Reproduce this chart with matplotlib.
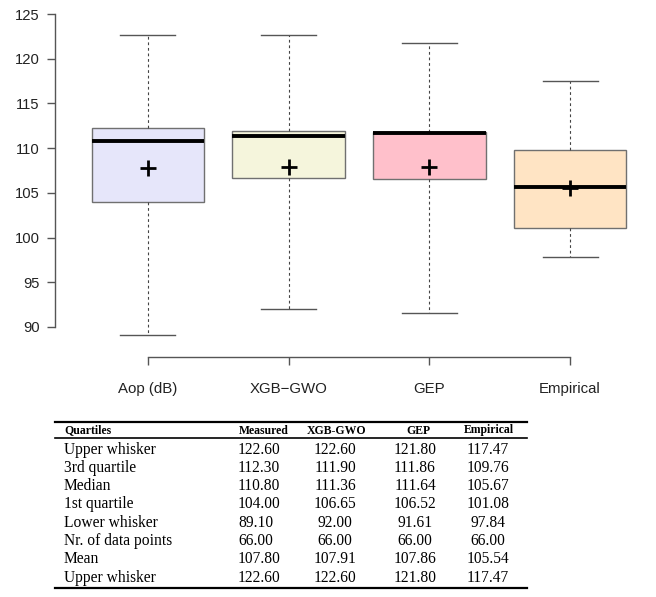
import matplotlib
matplotlib.use('Agg')
import matplotlib.pyplot as plt
from matplotlib.lines import Line2D

# box plot data
groups = ['Aop (dB)', 'XGB\u2212GWO', 'GEP', 'Empirical']
upper_whisker = [122.60, 122.60, 121.80, 117.47]
q3 = [112.30, 111.90, 111.86, 109.76]
median = [110.80, 111.36, 111.64, 105.67]
q1 = [104.00, 106.65, 106.52, 101.08]
lower_whisker = [89.10, 92.00, 91.61, 97.84]
mean = [107.80, 107.91, 107.86, 105.54]
box_colors = ['#E6E6FA', '#F5F5DC', '#FFC0CB', '#FFE4C4']
yticks = [90, 95, 100, 105, 110, 115, 120, 125]

# table below the chart
table_header = ['Quartiles', 'Measured', 'XGB-GWO', 'GEP', 'Empirical']
row_labels = ['Upper whisker', '3rd quartile', 'Median', '1st quartile',
              'Lower whisker', 'Nr. of data points', 'Mean', 'Upper whisker']
n_points = [66.00, 66.00, 66.00, 66.00]
table_cols = [list(c) for c in zip(upper_whisker, q3, median, q1,
                                   lower_whisker, n_points, mean, upper_whisker)]

W, H = 656, 597
fig = plt.figure(figsize=(W / 100, H / 100), dpi=100)


def px(x, y):
    # pixel (from top-left) to figure fraction
    return x / W, 1 - y / H


# axes: pixel box left=55, top=1.5, bottom=339.5
ax = fig.add_axes([55 / W, (H - 339.5) / H, 608 / W, 338 / H])

stats = []
for i in range(len(groups)):
    stats.append(dict(whislo=lower_whisker[i], q1=q1[i], med=median[i],
                      q3=q3[i], whishi=upper_whisker[i], mean=mean[i],
                      fliers=[]))

bp = ax.bxp(stats, positions=range(1, 5), widths=0.8, patch_artist=True,
            showmeans=True, showfliers=False,
            boxprops=dict(edgecolor='#707070', linewidth=1.0),
            medianprops=dict(color='black', linewidth=2.8, solid_capstyle='butt'),
            whiskerprops=dict(color='#444444', linestyle=(0, (2.5, 2.5)), linewidth=0.8),
            capprops=dict(color='#555555', linewidth=1.0),
            meanprops=dict(marker='+', markersize=11, markeredgewidth=2.0,
                           markeredgecolor='black'),
            capwidths=0.39)
for patch, c in zip(bp['boxes'], box_colors):
    patch.set_facecolor(c)

ax.set_xlim(0.34, 4.66)
ax.set_ylim(88.6, 126.4)
for s in ['top', 'right']:
    ax.spines[s].set_visible(False)
ax.spines['left'].set_bounds(90, 125)
ax.spines['bottom'].set_bounds(1, 4)
ax.spines['bottom'].set_position(('outward', 12.6))
for s in ['left', 'bottom']:
    ax.spines[s].set_color('#555555')
    ax.spines[s].set_linewidth(1.0)
ax.set_yticks(yticks)
ax.set_xticks(range(1, 5))
ax.set_xticklabels(groups)
ax.tick_params(axis='y', length=6, width=1.0, color='#555555', pad=5,
               labelsize=10.6, labelcolor='#222222')
ax.tick_params(axis='x', length=6, width=1.0, color='#555555', pad=12,
               labelsize=10.8, labelcolor='#222222')
for lab in ax.get_xticklabels() + ax.get_yticklabels():
    lab.set_fontfamily('Liberation Sans')
ax.patch.set_alpha(0)

# table
serif = 'Liberation Serif'
x_left, x_right = 55, 527
fig.add_artist(Line2D([x_left / W, x_right / W], [1 - 421.5 / H] * 2,
                      color='black', linewidth=1.6))
fig.add_artist(Line2D([x_left / W, x_right / W], [1 - 437.5 / H] * 2,
                      color='black', linewidth=1.2))
fig.add_artist(Line2D([x_left / W, x_right / W], [1 - 588 / H] * 2,
                      color='black', linewidth=1.6))

header_x = [64, 264, 337, 418, 489]
header_ha = ['left', 'center', 'center', 'center', 'center']
for t, x, ha in zip(table_header, header_x, header_ha):
    fig.text(*px(x, 430.5), t, ha=ha, va='center', fontsize=8.5,
             fontweight='bold', family=serif)

col_x = [238, 335, 415, 488]
col_ha = ['left', 'center', 'center', 'center']
row_y0, row_dy = 449.5, 18.3
for r, lab in enumerate(row_labels):
    y = row_y0 + r * row_dy
    fig.text(*px(64, y), lab, ha='left', va='center', fontsize=11.2, family=serif)
    for c in range(4):
        fig.text(*px(col_x[c], y), f'{table_cols[c][r]:.2f}', ha=col_ha[c],
                 va='center', fontsize=11.2, family=serif)

fig.savefig('out.png', dpi=100)
